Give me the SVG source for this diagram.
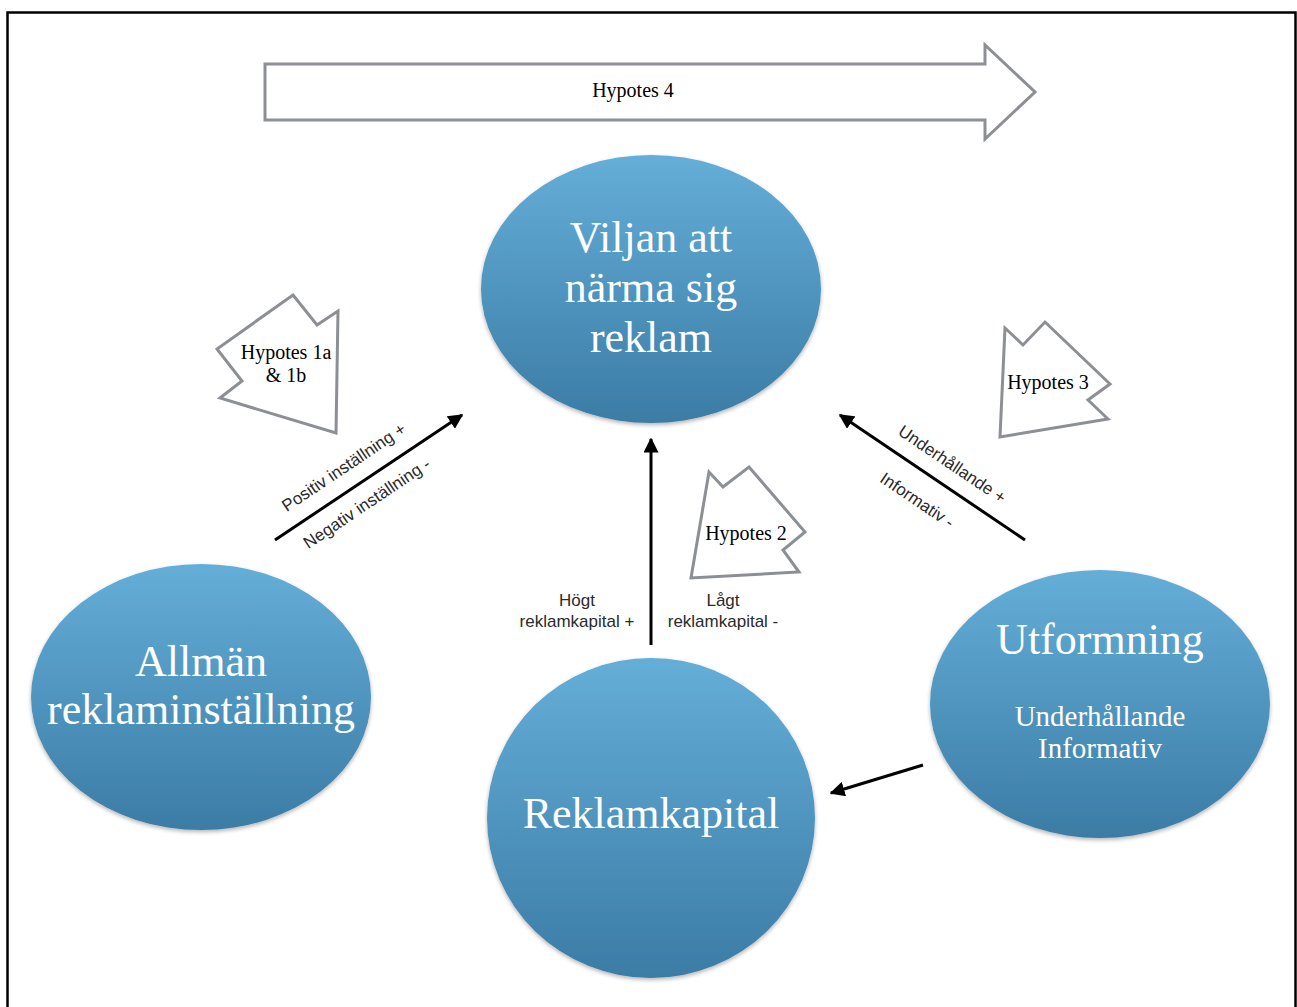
<svg xmlns="http://www.w3.org/2000/svg" width="1297" height="1007" viewBox="0 0 1297 1007">
<defs>
<linearGradient id="blue" x1="0" y1="0" x2="0" y2="1">
<stop offset="0" stop-color="#64aed8"/>
<stop offset="1" stop-color="#3b7ca5"/>
</linearGradient>
<marker id="ah" viewBox="0 0 10 10" refX="9" refY="5" markerWidth="5" markerHeight="5" orient="auto" markerUnits="strokeWidth">
<path d="M0,0 L10,5 L0,10 z" fill="#000"/>
</marker>
<filter id="sh" x="-10%" y="-10%" width="120%" height="125%">
<feGaussianBlur in="SourceAlpha" stdDeviation="2"/>
<feOffset dy="2"/>
<feComponentTransfer><feFuncA type="linear" slope="0.3"/></feComponentTransfer>
<feMerge><feMergeNode/><feMergeNode in="SourceGraphic"/></feMerge>
</filter>
</defs>
<style>
.ell{fill:url(#blue);filter:url(#sh)}
.big{font-family:"Liberation Serif","Times New Roman",serif;fill:#fff;text-anchor:middle}
.blk{fill:#fff;stroke:#8c8f93;stroke-width:3;stroke-linejoin:miter}
.hyp{font-family:"Liberation Serif","Times New Roman",serif;font-size:20px;fill:#000;text-anchor:middle}
.lbl{font-family:"Liberation Sans",Arial,sans-serif;font-size:17px;fill:#2a2a2a;text-anchor:middle}
.con{stroke:#000;stroke-width:3;fill:none;marker-end:url(#ah)}
</style>
<rect width="1297" height="1007" fill="#fff"/>
<rect x="7.5" y="12.5" width="1288" height="1010" fill="none" stroke="#000" stroke-width="2.5"/>

<g id="hypotes4">
<polygon class="blk" points="265,64 985,64 985,45 1035,92 985,139 985,120 265,120"/>
<text class="hyp" x="633" y="97">Hypotes 4</text>
</g>

<g id="hypotes1">
<polygon class="blk" points="293,295 317,325 338,311 336,433 220,398 242,381 217,349"/>
<text class="hyp" x="286" y="359">Hypotes 1a</text>
<text class="hyp" x="286" y="382">&amp; 1b</text>
</g>

<g id="hypotes3">
<polygon class="blk" points="1005,328 1023,345 1045,322 1110,384 1088,400 1108,419 1000,437"/>
<text class="hyp" x="1048" y="389">Hypotes 3</text>
</g>

<g id="hypotes2">
<polygon class="blk" points="709,472 723,487 749,467 805,532 783,550 799,572 691,578"/>
<text class="hyp" x="746" y="540">Hypotes 2</text>
</g>

<g id="viljan">
<ellipse class="ell" cx="651" cy="289" rx="170" ry="134"/>
<text class="big" x="651" y="252" font-size="44">Viljan att</text>
<text class="big" x="651" y="302" font-size="44">närma sig</text>
<text class="big" x="651" y="352" font-size="44">reklam</text>
</g>

<g id="allman">
<ellipse class="ell" cx="201" cy="697" rx="170" ry="133"/>
<text class="big" x="201" y="676" font-size="44">Allmän</text>
<text class="big" x="201" y="724" font-size="44">reklaminställning</text>
</g>

<g id="reklamkapital">
<ellipse class="ell" cx="651" cy="818" rx="164" ry="160"/>
<text class="big" x="651" y="828" font-size="44">Reklamkapital</text>
</g>

<g id="utformning">
<ellipse class="ell" cx="1100" cy="704" rx="170" ry="134"/>
<text class="big" x="1100" y="654" font-size="44">Utformning</text>
<text class="big" x="1100" y="726" font-size="29">Underhållande</text>
<text class="big" x="1100" y="758" font-size="29">Informativ</text>
</g>

<g id="connectors">
<line class="con" x1="275" y1="540" x2="462" y2="415"/>
<text class="lbl" transform="translate(347,472) rotate(-33.8)">Positiv inställning +</text>
<text class="lbl" transform="translate(370,508) rotate(-33.8)">Negativ inställning -</text>

<line class="con" x1="651" y1="645" x2="651" y2="439"/>
<text class="lbl" x="577" y="606">Högt</text>
<text class="lbl" x="577" y="627">reklamkapital +</text>
<text class="lbl" x="723" y="606">Lågt</text>
<text class="lbl" x="723" y="627">reklamkapital -</text>

<line class="con" x1="1025" y1="540" x2="840" y2="415"/>
<text class="lbl" transform="translate(949,469) rotate(34)">Underhållande +</text>
<text class="lbl" transform="translate(914,505) rotate(34)">Informativ -</text>

<line class="con" x1="923" y1="765" x2="831" y2="793"/>
</g>
</svg>
